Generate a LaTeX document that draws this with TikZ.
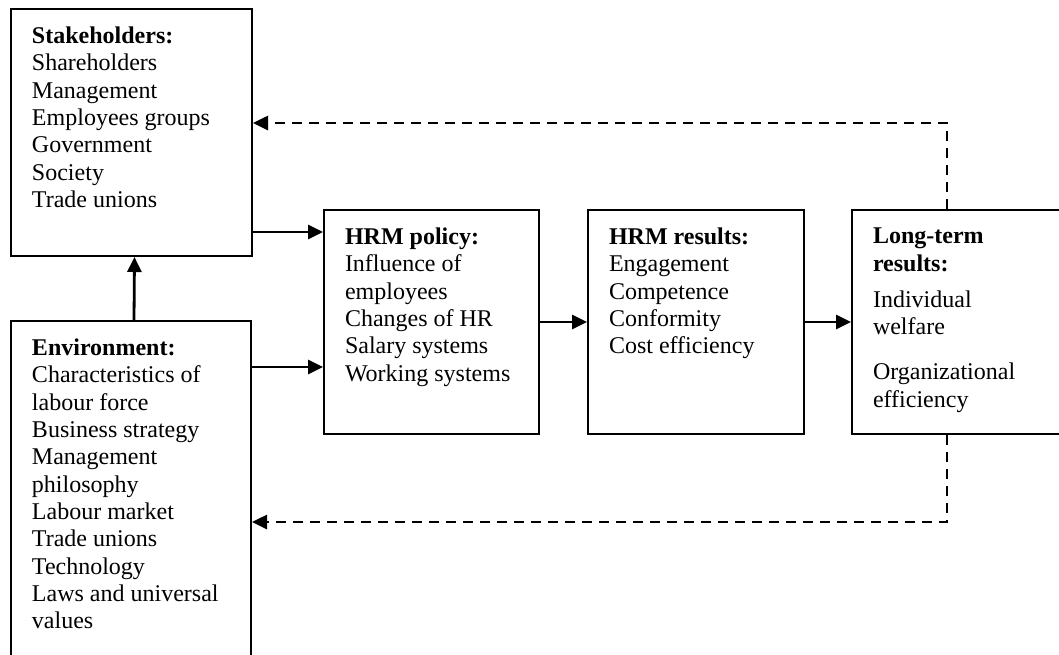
\documentclass[tikz,border=0pt]{standalone}
\usepackage{fontspec}
\setmainfont{Liberation Serif}
\usetikzlibrary{arrows.meta}

\newcommand{\boxtext}[3]{\parbox[c][#2][t]{#1}{\raggedright #3}}

\begin{document}
\begin{tikzpicture}[x=0.5pt, y=-0.5pt, >={Triangle[length=7.5pt, width=7pt]},
    every node/.style={font=\fontsize{12}{13.65}\selectfont}]
    \tikzstyle{block}=[draw, line width=1pt, anchor=north west, inner xsep=10.5pt, inner ysep=9pt]
    \tikzstyle{flow}=[->, line width=1.4pt]
    \tikzstyle{feedback}=[->, line width=1.3pt, dash pattern=on 5pt off 3.5pt]

    \useasboundingbox (0,0) rectangle (1059,654);

    \node[block] (stake) at (10,8) {\boxtext{99.5pt}{105.5pt}{\textbf{Stakeholders:}\\
        Shareholders\\ Management\\ Employees groups\\ Government\\ Society\\ Trade unions}};
    \node[block] (env) at (10,320) {\boxtext{99pt}{156pt}{\textbf{Environment:}\\
        Characteristics of\\ labour force\\ Business strategy\\ Management\\ philosophy\\
        Labour market\\ Trade unions\\ Technology\\ Laws and universal\\ values}};

    \node[block] (pol) at (323,209) {\boxtext{86.5pt}{94pt}{\textbf{HRM policy:}\\
        Influence of\\ employees\\ Changes of HR\\ Salary systems\\ Working systems}};
    \node[block] (res) at (587,209) {\boxtext{87pt}{94pt}{\textbf{HRM results:}\\
        Engagement\\ Competence\\ Conformity\\ Cost efficiency}};
    \node[block] (long) at (851,209) {\boxtext{90pt}{94pt}{\textbf{Long-term}\\ \textbf{results:}\\[4.5pt]
        Individual\\ welfare\\[9pt] Organizational\\ efficiency}};

    \coordinate (polin1) at ([yshift=-11.5pt]pol.north west);
    \coordinate (polin2) at ([yshift=-22.5pt]pol.west);
    \draw[flow] (stake.east |- polin1) -- (polin1);
    \draw[flow] (env.east |- polin2) -- (polin2);
    \draw[flow] ([xshift=1.5pt]env.north) -- ([xshift=1.5pt]stake.south);
    \draw[flow] (pol.east) -- (res.west);
    \draw[flow] (res.east) -- (long.west);

    % feedback loops
    \coordinate (fbtop) at ([xshift=48pt]long.north west);
    \coordinate (fbbot) at ([xshift=48pt]long.south west);
    \coordinate (fbin1) at ([yshift=-57.5pt]stake.north east);
    \coordinate (fbin2) at ([yshift=-101pt]env.north east);
    \draw[feedback] (fbtop) |- (fbin1);
    \draw[feedback] (fbbot) |- (fbin2);
\end{tikzpicture}
\end{document}
